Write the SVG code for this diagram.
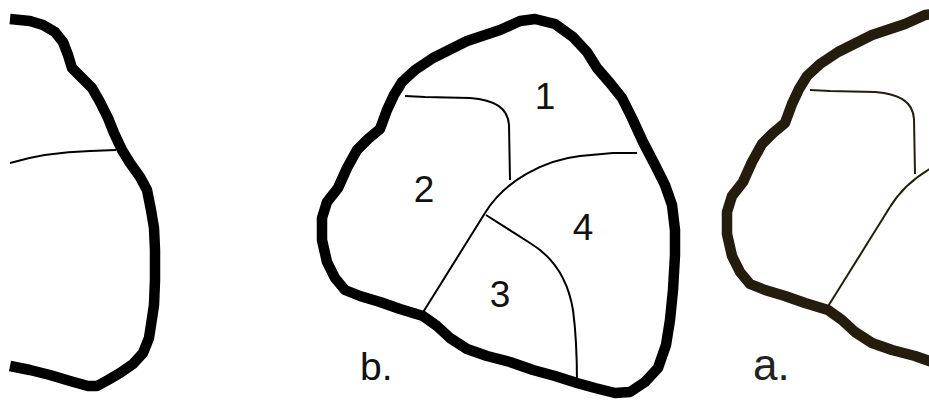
<svg xmlns="http://www.w3.org/2000/svg" width="929" height="404" viewBox="0 0 929 404">
<style>
.outline{fill:none;stroke-width:10.5;stroke-linejoin:round;stroke-linecap:round}
.inner{fill:none;stroke-width:2;stroke-linejoin:round}
.k{stroke:#000}
.br{stroke:#241c0c}
.lbl{font-family:"Liberation Sans",Arial,sans-serif;fill:#111}
</style>
<defs>
<path id="outlineB" d="M500,30 L520,21 L535,19 L555,24 L573,37 L587,52 L597,68 L610,83 L622,98 L632,118 L643,142 L655,165 L665,185 L672,205 L675,230 L675,255 L673,290 L670,320 L666,345 L658,368 L645,382 L630,392 L615,393 L595,388 L577,383 L555,376 L533,370 L510,362 L487,356 L467,349 L450,338 L437,326 L423,316 L400,309 L380,302 L360,296 L345,290 L335,278 L327,262 L322,240 L322,218 L327,202 L338,188 L347,168 L357,150 L368,139 L380,129 L387,110 L394,95 L402,82 L415,70 L433,58 L467,41 Z"/>
<path id="lineA" d="M405,96 L425,97 L470,98 C495,100 508,108 509,125 L510,180"/>
<path id="lineB" d="M637,153 L613,153 L580,156 C545,160 505,180 485,213"/>
<path id="lineC" d="M485,213 L422,314"/>
</defs>
<g id="left-shape">
<path class="outline k" style="stroke-linecap:butt" d="M10,19 L30,21 L43,25 L55,32 L63,42 L68,55 L72,68 L82,78 L92,88 L100,102 L108,118 L114,133 L122,150 L130,163 L140,177 L147,190 L151,210 L154,228 L155,250 L155,280 L154,305 L151,325 L149,338 L143,353 L133,364 L120,373 L108,380 L97,386 L88,386 L70,381 L50,375 L30,370 L10,366"/>
<path class="inner k" d="M10,163 C30,157 55,152 90,151 L116,150"/>
</g>
<g id="shape-b">
<use href="#outlineB" class="outline k"/>
<use href="#lineA" class="inner k"/>
<use href="#lineB" class="inner k"/>
<use href="#lineC" class="inner k"/>
<path class="inner k" d="M486,215 L530,243 C555,258 568,280 573,310 C577,340 577,360 577,383"/>
<text class="lbl" x="545" y="109" font-size="37" text-anchor="middle">1</text>
<text class="lbl" x="424" y="202" font-size="37" text-anchor="middle">2</text>
<text class="lbl" x="500" y="307" font-size="37" text-anchor="middle">3</text>
<text class="lbl" x="583" y="240" font-size="37" text-anchor="middle">4</text>
<text class="lbl" x="360" y="380" font-size="39">b.</text>
</g>
<g id="shape-a" transform="translate(405,-6)">
<use href="#outlineB" class="outline br"/>
<use href="#lineA" class="inner br"/>
<use href="#lineB" class="inner br"/>
<use href="#lineC" class="inner br"/>
</g>
<g id="label-a">
<text class="lbl" x="753" y="380" font-size="44" style="fill:#222">a.</text>
</g>
</svg>
